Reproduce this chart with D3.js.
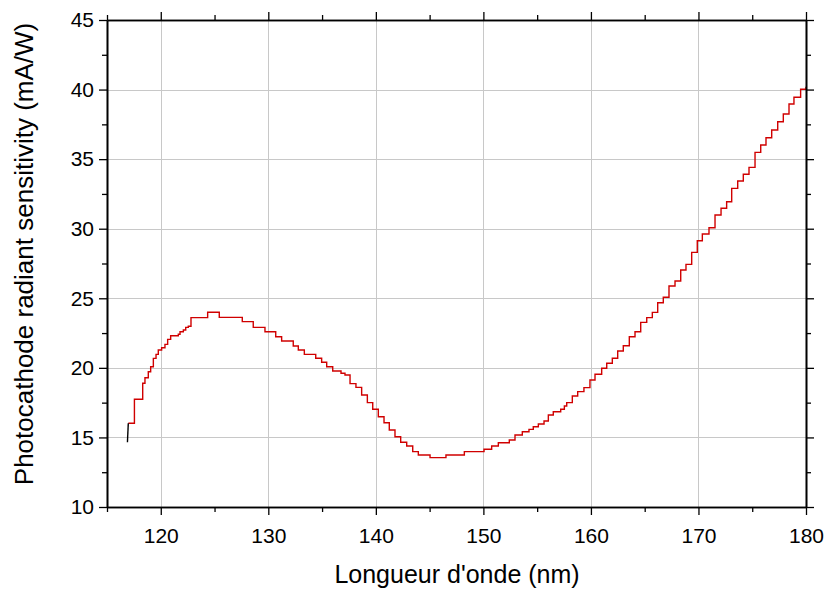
<!DOCTYPE html>
<html>
<head>
<meta charset="utf-8">
<script src="https://cdn.jsdelivr.net/npm/d3@7"></script>
<style>
  html, body { margin: 0; padding: 0; background: #fff; }
  svg { display: block; }
  text { font-family: "Liberation Sans", Arial, sans-serif; fill: #000; }
</style>
</head>
<body>
<svg id="chart" width="827" height="589"></svg>
<script>
// ---- data ----
const wavelength = [
  116.90, 116.98, 117.55, 118.32, 118.53, 118.84, 119.06, 119.31, 119.56, 119.77,
  120.08, 120.39, 120.64, 120.92, 121.63, 121.79, 122.10, 122.32, 122.56, 122.81,
  124.36, 125.44, 127.58, 128.60, 129.69, 130.69, 131.24, 132.32, 132.79, 133.35,
  134.41, 134.96, 135.43, 135.99, 136.76, 137.13, 137.60, 138.15, 138.68, 139.21,
  139.71, 140.23, 140.76, 141.25, 141.78, 142.31, 142.87, 143.43, 143.95, 145.04,
  146.52, 148.23, 150.06, 150.77, 151.39, 152.41, 152.94, 153.62, 154.24, 154.64,
  155.11, 155.64, 156.04, 156.50, 157.19, 157.53, 157.75, 158.27, 158.77, 159.35,
  159.91, 160.38, 161.00, 161.47, 161.99, 162.49, 163.01, 163.57, 164.10, 164.63,
  165.19, 165.71, 166.21, 166.73, 167.26, 167.82, 168.35, 168.84, 169.37, 169.89,
  170.36, 170.98, 171.54, 172.10, 172.62, 173.09, 173.65, 174.17, 174.70, 175.26,
  175.79, 176.28, 176.81, 177.37, 177.89, 178.42, 178.88, 179.50, 180.00
];
const sensitivity = [
  14.65, 16.02, 17.74, 18.89, 19.29, 19.72, 20.08, 20.68, 20.97, 21.28,
  21.45, 21.69, 22.05, 22.31, 22.41, 22.60, 22.72, 22.91, 22.99, 23.61,
  24.00, 23.63, 23.32, 22.91, 22.60, 22.24, 21.93, 21.57, 21.28, 20.97,
  20.69, 20.40, 20.08, 19.77, 19.61, 19.49, 18.87, 18.60, 18.05, 17.50,
  17.02, 16.49, 16.06, 15.53, 15.05, 14.65, 14.38, 13.98, 13.74, 13.55,
  13.74, 13.98, 14.15, 14.38, 14.62, 14.82, 15.17, 15.41, 15.58, 15.77,
  15.97, 16.18, 16.61, 16.85, 17.02, 17.26, 17.50, 17.98, 18.29, 18.58,
  19.13, 19.54, 19.97, 20.33, 20.69, 21.21, 21.59, 22.24, 22.60, 23.27,
  23.61, 23.99, 24.68, 25.07, 25.88, 26.24, 27.03, 27.44, 28.30, 29.14,
  29.62, 30.07, 30.99, 31.47, 31.94, 32.90, 33.43, 33.91, 34.41, 35.49,
  36.02, 36.54, 37.09, 37.69, 38.24, 38.96, 39.45, 40.02, 40.20
];
const xMajorTicks = [120, 130, 140, 150, 160, 170, 180];
const xMinorTicks = [115, 125, 135, 145, 155, 165, 175];
const yMajorTicks = [10, 15, 20, 25, 30, 35, 40, 45];
const yMinorTicks = [12.5, 17.5, 22.5, 27.5, 32.5, 37.5, 42.5];
const xTitle = "Longueur d'onde (nm)";
const yTitle = "Photocathode radiant sensitivity (mA/W)";

// ---- layout ----
const svg = d3.select("#chart");
const L = 107, R = 806, T = 20, B = 507;
const x = d3.scaleLinear().domain([115, 180]).range([L, R]);
const y = d3.scaleLinear().domain([10, 45]).range([B, T]);

// grid
const grid = svg.append("g").attr("stroke", "#c8c8c8").attr("stroke-width", 1);
grid.selectAll("line.v").data(xMajorTicks.filter(d => d > 115 && d < 180)).join("line")
  .attr("x1", d => Math.round(x(d)) + 0.5).attr("x2", d => Math.round(x(d)) + 0.5)
  .attr("y1", T).attr("y2", B);
grid.selectAll("line.h").data(yMajorTicks.filter(d => d > 10 && d < 45)).join("line")
  .attr("y1", d => Math.round(y(d)) + 0.5).attr("y2", d => Math.round(y(d)) + 0.5)
  .attr("x1", L).attr("x2", R);

// data line
const pts = wavelength.map((w, i) => [w, sensitivity[i]]);
const stepLine = d3.line().x(d => x(d[0])).y(d => y(d[1])).curve(d3.curveStepAfter);
const linLine = d3.line().x(d => x(d[0])).y(d => y(d[1]));
svg.append("path").datum(pts.slice(1))
  .attr("d", stepLine).attr("fill", "none").attr("stroke", "#d00000").attr("stroke-width", 1.4);
svg.append("path").datum(pts.slice(0, 2))
  .attr("d", linLine).attr("fill", "none").attr("stroke", "#000").attr("stroke-width", 1.4);

// axes
function styleAxis(g) {
  g.selectAll("path.domain").attr("stroke", "#000").attr("stroke-width", 1.6);
  g.selectAll(".tick line").attr("stroke", "#000").attr("stroke-width", 1.3);
  g.selectAll("text").attr("font-family", "'Liberation Sans', Arial, sans-serif")
    .attr("font-size", 21).attr("fill", "#000");
}
const major = 8, minor = 5;
// bottom
svg.append("g").attr("transform", `translate(0,${B})`)
  .call(d3.axisBottom(x).tickValues(xMinorTicks).tickSize(minor).tickSizeOuter(0).tickFormat(""))
  .call(styleAxis);
svg.append("g").attr("transform", `translate(0,${B})`)
  .call(d3.axisBottom(x).tickValues(xMajorTicks).tickSize(major).tickSizeOuter(0).tickPadding(13).tickFormat(d3.format("d")))
  .call(styleAxis);
// top
svg.append("g").attr("transform", `translate(0,${T})`)
  .call(d3.axisTop(x).tickValues(xMinorTicks).tickSize(minor).tickSizeOuter(0).tickFormat(""))
  .call(styleAxis);
svg.append("g").attr("transform", `translate(0,${T})`)
  .call(d3.axisTop(x).tickValues(xMajorTicks).tickSize(major).tickSizeOuter(0).tickFormat(""))
  .call(styleAxis);
// left
svg.append("g").attr("transform", `translate(${L},0)`)
  .call(d3.axisLeft(y).tickValues(yMinorTicks).tickSize(minor).tickSizeOuter(0).tickFormat(""))
  .call(styleAxis);
svg.append("g").attr("transform", `translate(${L},0)`)
  .call(d3.axisLeft(y).tickValues(yMajorTicks).tickSize(major).tickSizeOuter(0).tickPadding(5).tickFormat(d3.format("d")))
  .call(styleAxis);
// right
svg.append("g").attr("transform", `translate(${R},0)`)
  .call(d3.axisRight(y).tickValues(yMinorTicks).tickSize(minor).tickSizeOuter(0).tickFormat(""))
  .call(styleAxis);
svg.append("g").attr("transform", `translate(${R},0)`)
  .call(d3.axisRight(y).tickValues(yMajorTicks).tickSize(major).tickSizeOuter(0).tickFormat(""))
  .call(styleAxis);

// titles
svg.append("text").attr("x", 457).attr("y", 583)
  .attr("text-anchor", "middle").attr("font-size", 25).text(xTitle);
svg.append("text").attr("transform", `translate(33,254) rotate(-90)`)
  .attr("text-anchor", "middle").attr("font-size", 26).text(yTitle);
</script>
</body>
</html>
